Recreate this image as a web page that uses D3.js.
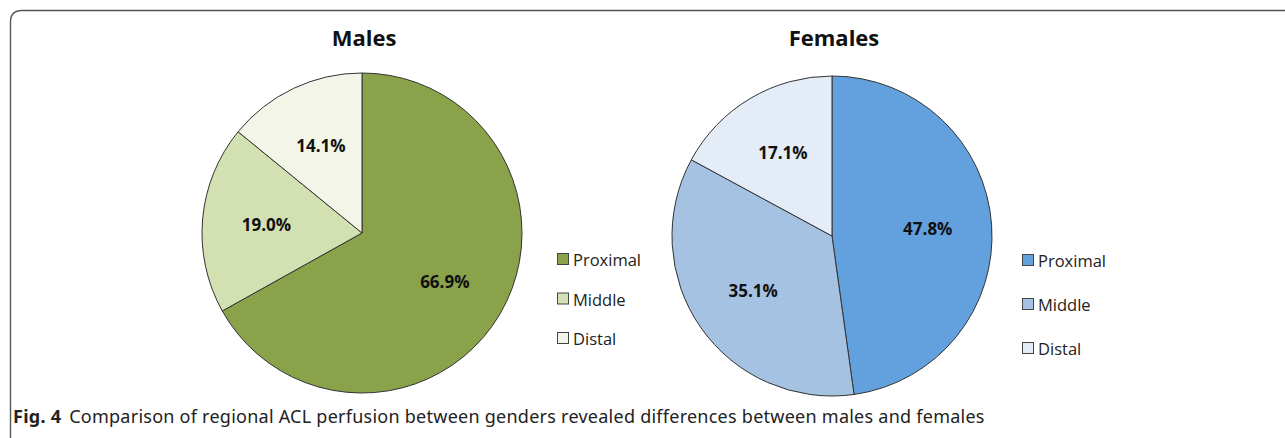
<!DOCTYPE html>
<html>
<head>
<meta charset="utf-8">
<script src="https://cdn.jsdelivr.net/npm/d3@7"></script>
<style>
  body { margin: 0; background: #fff; }
  svg { display: block; }
</style>
</head>
<body>
<svg id="chart" width="1285" height="438"></svg>
<script>
// data
var regions = ["Proximal", "Middle", "Distal"];
var malesValues = [66.9, 19.0, 14.1];
var femalesValues = [47.8, 35.1, 17.1];
var malesColors = ["#8aa34b", "#d3e0b1", "#f2f5e8"];
var femalesColors = ["#62a0de", "#a6c2e2", "#e3ecf7"];
var captionBold = "Fig. 4";
var captionText = "Comparison of regional ACL perfusion between genders revealed differences between males and females";

var svg = d3.select("#chart");

// open frame: top + left edge with rounded corner
svg.append("path")
  .attr("d", "M10.5,438 L10.5,22 Q10.5,10.5 22,10.5 L1285,10.5")
  .style("fill", "none")
  .style("stroke", "#555")
  .style("stroke-width", 1.4);

function draw_pie(cx, cy, r, title, values, colors, legendX, legendY, legendStep){
  var g = svg.append("g").attr("transform", "translate(" + cx + "," + cy + ")");
  var data = regions.map(function(d, i){ return {name: d, value: values[i], color: colors[i]}; });

  var pie = d3.pie().sort(null).value(d => d.value);
  var arc = d3.arc().innerRadius(0).outerRadius(r);
  var labelArc = d3.arc().innerRadius(r * 0.6).outerRadius(r * 0.6);

  var arcs = pie(data);

  g.selectAll(".slice").data(arcs)
    .enter()
    .append("path")
      .attr("class", "slice")
      .attr("d", arc)
      .style("fill", d => d.data.color)
      .style("stroke", "#333")
      .style("stroke-width", 1);

  g.selectAll(".lbl").data(arcs)
    .enter()
    .append("text")
      .attr("class", "lbl")
      .attr("transform", d => "translate(" + labelArc.centroid(d) + ")")
      .attr("dy", "0.35em")
      .text(d => d.data.value.toFixed(1) + "%")
      .style("text-anchor", "middle")
      .style("font-family", "'Open Sans', sans-serif")
      .style("font-weight", "bold")
      .style("font-size", "17px")
      .attr("fill", "#111");

  // title
  svg.append("text")
    .text(title)
    .attr("x", cx + 2)
    .attr("y", 46)
    .style("text-anchor", "middle")
    .style("font-family", "'Open Sans', sans-serif")
    .style("font-weight", "bold")
    .style("font-size", "22px")
    .attr("fill", "#111");

  // legend
  var leg = svg.append("g").attr("transform", "translate(" + legendX + "," + legendY + ")");
  var items = leg.selectAll(".item").data(data)
    .enter()
    .append("g")
      .attr("class", "item")
      .attr("transform", (d, i) => "translate(0," + i * legendStep + ")");

  items.append("rect")
    .attr("x", 0.5)
    .attr("y", -12.5)
    .attr("width", 11)
    .attr("height", 11)
    .style("fill", d => d.color)
    .style("stroke", "#444")
    .style("stroke-width", 1);

  items.append("text")
    .attr("x", 16)
    .attr("y", 0)
    .text(d => d.name)
    .style("font-family", "'Open Sans', sans-serif")
    .style("font-size", "16.5px")
    .attr("fill", "#222");
}

draw_pie(362, 233, 160, "Males", malesValues, malesColors, 557, 266, 39.5);
draw_pie(832, 236, 160, "Females", femalesValues, femalesColors, 1022, 267, 44);

// caption
var cap = svg.append("text")
  .attr("x", 13)
  .attr("y", 423)
  .style("font-family", "'Noto Sans', sans-serif")
  .style("font-size", "18px")
  .style("letter-spacing", "0.25px")
  .attr("fill", "#222");
cap.append("tspan").text(captionBold).style("font-weight", "bold");
cap.append("tspan").attr("dx", 8).text(captionText);
</script>
</body>
</html>
